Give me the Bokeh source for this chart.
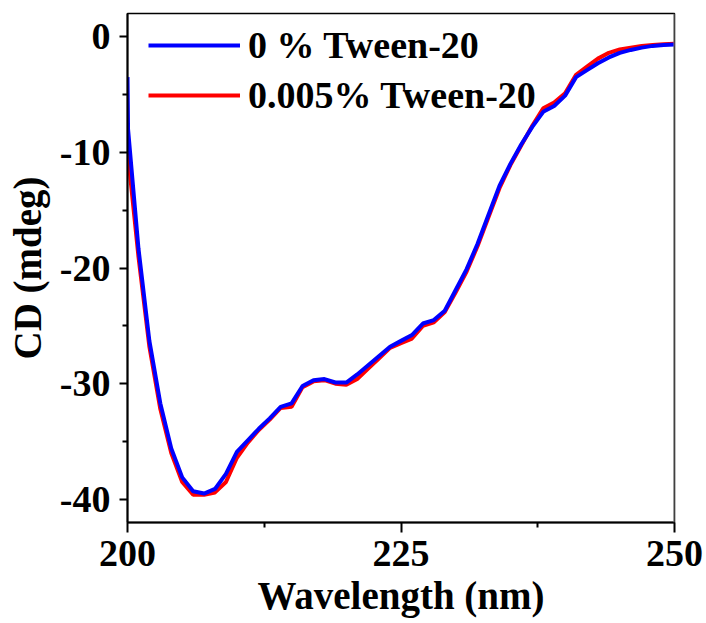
from bokeh.plotting import figure
from bokeh.models import FixedTicker, Legend, LegendItem, Range1d, Span, PrintfTickFormatter
from bokeh.embed import file_html
from bokeh.resources import INLINE

# Wavelength (nm)
blue_x = [200, 200.05] + list(range(201, 251))
blue_y = [-3.5, -8.0, -18.3, -26.3, -31.7, -35.6, -38.1, -39.3, -39.5, -39.1, -37.8,
          -35.9, -34.9, -33.9, -33.0, -32.0, -31.7, -30.2, -29.7, -29.6, -29.9,
          -29.9, -29.2, -28.4, -27.6, -26.8, -26.3, -25.8, -24.8, -24.5, -23.7,
          -21.9, -20.1, -17.9, -15.4, -12.9, -11.0, -9.3, -7.8, -6.5, -6.0,
          -5.1, -3.5, -2.9, -2.3, -1.8, -1.4, -1.15, -0.95, -0.8, -0.72, -0.68]

red_x = list(range(200, 251))
red_y = [-9.8, -19.0, -26.8, -32.2, -36.0, -38.5, -39.6, -39.6, -39.4, -38.5,
         -36.4, -35.1, -34.0, -33.1, -32.1, -32.0, -30.3, -29.8, -29.7, -30.0,
         -30.1, -29.6, -28.7, -27.8, -26.9, -26.5, -26.1, -25.0, -24.7, -23.8,
         -22.1, -20.3, -18.1, -15.6, -13.1, -11.1, -9.4, -7.7, -6.2, -5.7,
         -4.9, -3.3, -2.6, -1.9, -1.4, -1.1, -0.95, -0.8, -0.72, -0.66, -0.62]

x_major = [200, 225, 250]
x_minor = [212.5, 237.5]
y_major = [0, -10, -20, -30, -40]
y_minor = [-5, -15, -25, -35]

labels = ["0 % Tween-20", "0.005% Tween-20"]

FONT = "Liberation Serif"

p = figure(width=706, height=623, output_backend="svg", toolbar_location=None,
           x_range=Range1d(200, 250), y_range=Range1d(-42, 2),
           min_border_left=127, min_border_right=32, min_border_top=13,
           min_border_bottom=101)
p.background_fill_color = "white"
p.border_fill_color = "white"
p.grid.visible = False
p.outline_line_color = "black"
p.outline_line_width = 1.5

r_red = p.line(red_x, red_y, line_color="#ff0000", line_width=4)
r_blue = p.line(blue_x, blue_y, line_color="#0000ff", line_width=4)

p.add_layout(Span(location=250, dimension="height", line_color="#808080", line_width=2))

for ax in (p.xaxis[0], p.yaxis[0]):
    ax.axis_line_width = 2
    ax.axis_line_color = "black"
    ax.major_tick_line_width = 2
    ax.minor_tick_line_width = 2
    ax.major_tick_in = 0
    ax.minor_tick_in = 0
    ax.major_label_text_font = FONT
    ax.major_label_text_font_style = "bold"
    ax.major_label_text_font_size = "38px"
    ax.major_label_text_color = "black"
    ax.axis_label_text_font = FONT
    ax.axis_label_text_font_style = "bold"
    ax.axis_label_text_font_size = "39px"
    ax.axis_label_text_color = "black"

p.xaxis.ticker = FixedTicker(ticks=x_major, minor_ticks=x_minor)
p.yaxis.ticker = FixedTicker(ticks=y_major, minor_ticks=y_minor)
p.xaxis.formatter = PrintfTickFormatter(format="%d")
p.yaxis.formatter = PrintfTickFormatter(format="%d")
p.xaxis.major_tick_out = 10
p.xaxis.minor_tick_out = 5
p.yaxis.major_tick_out = 8
p.yaxis.minor_tick_out = 5
p.xaxis.major_label_standoff = 8
p.yaxis.major_label_standoff = 9
p.xaxis.axis_label = "Wavelength (nm)"
p.yaxis.axis_label = "CD (mdeg)"
p.xaxis.axis_label_standoff = 5
p.yaxis.axis_label_standoff = 8

legend = Legend(items=[LegendItem(label=labels[0], renderers=[r_blue]),
                       LegendItem(label=labels[1], renderers=[r_red])],
                location=(21, 402), orientation="vertical")
legend.border_line_color = None
legend.background_fill_alpha = 0
legend.padding = 0
legend.margin = 0
legend.spacing = 0
legend.glyph_width = 92
legend.glyph_height = 50
legend.label_height = 50
legend.label_standoff = 8
legend.label_text_font = FONT
legend.label_text_font_style = "bold"
legend.label_text_font_size = "38px"
legend.label_text_color = "black"
p.add_layout(legend, "center")

open("out.html", "w").write(file_html(p, INLINE))
